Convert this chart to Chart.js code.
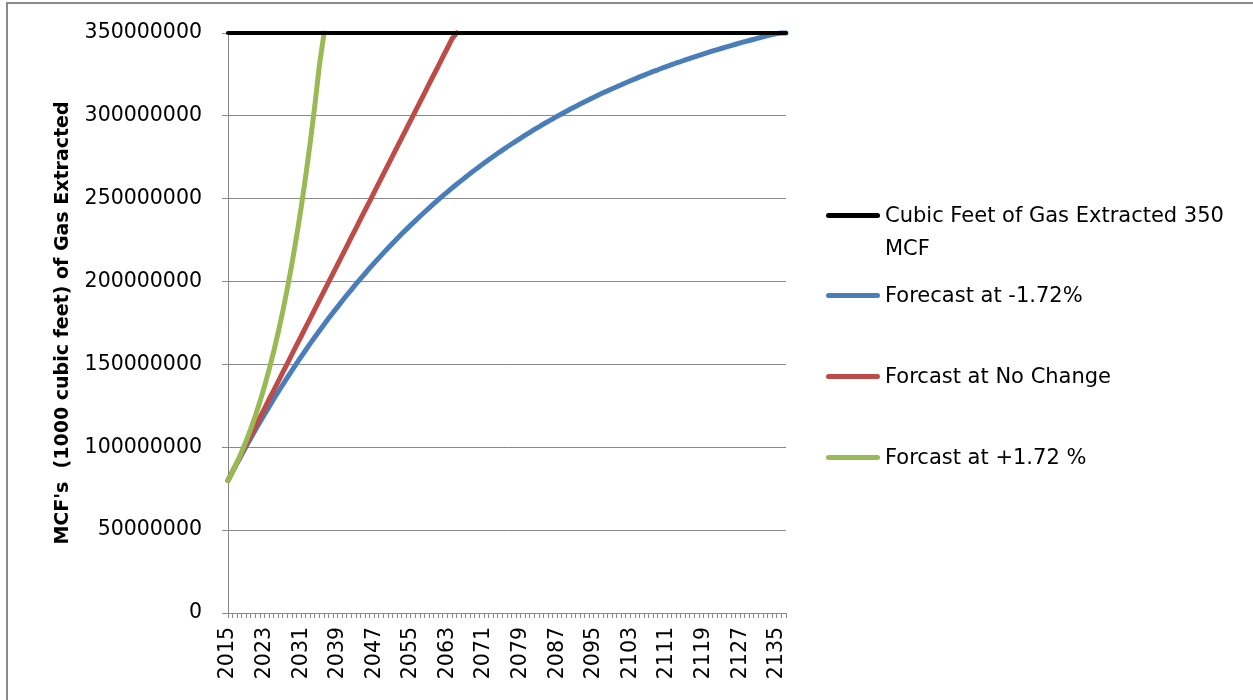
<!DOCTYPE html>
<html>
<head>
<meta charset="utf-8">
<title>Gas Extraction Forecast</title>
<script src="https://cdn.jsdelivr.net/npm/chart.js@4.4.1/dist/chart.umd.min.js"></script>
<style>
  html, body { margin: 0; padding: 0; background: #fff; }
  #wrap { position: relative; width: 1253px; height: 700px; overflow: hidden; }
  #frame { position: absolute; left: 6px; top: 2px; width: 1400px; height: 900px;
           border-left: 2px solid #8a8a8a; border-top: 2px solid #8a8a8a; }
  #chart { position: absolute; left: 0; top: 0; }
  #legend { position: absolute; left: 826px; top: 0; width: 427px; height: 700px; }
  .item { position: absolute; left: 0; display: flex; align-items: flex-start; }
  .swatch { width: 54px; height: 5px; border-radius: 2.5px; margin-top: 14px; margin-right: 5px; flex: none; }
  .text { width: 362px; font: 21px 'DejaVu Sans', sans-serif; line-height: 33px; color: #000; }
</style>
</head>
<body>
<div id="wrap">
  <div id="frame"></div>
  <canvas id="chart" width="1253" height="700"></canvas>
  <div id="legend"></div>
</div>
<script>
// Years on the category axis
const years = [
  2015,2016,2017,2018,2019,2020,2021,2022,2023,2024,
  2025,2026,2027,2028,2029,2030,2031,2032,2033,2034,
  2035,2036,2037,2038,2039,2040,2041,2042,2043,2044,
  2045,2046,2047,2048,2049,2050,2051,2052,2053,2054,
  2055,2056,2057,2058,2059,2060,2061,2062,2063,2064,
  2065,2066,2067,2068,2069,2070,2071,2072,2073,2074,
  2075,2076,2077,2078,2079,2080,2081,2082,2083,2084,
  2085,2086,2087,2088,2089,2090,2091,2092,2093,2094,
  2095,2096,2097,2098,2099,2100,2101,2102,2103,2104,
  2105,2106,2107,2108,2109,2110,2111,2112,2113,2114,
  2115,2116,2117,2118,2119,2120,2121,2122,2123,2124,
  2125,2126,2127,2128,2129,2130,2131,2132,2133,2134,
  2135,2136,2137
];

// Total reserve line (MCF)
const reserveTotal = [
  350e6,350e6,350e6,350e6,350e6,350e6,350e6,350e6,350e6,350e6,
  350e6,350e6,350e6,350e6,350e6,350e6,350e6,350e6,350e6,350e6,
  350e6,350e6,350e6,350e6,350e6,350e6,350e6,350e6,350e6,350e6,
  350e6,350e6,350e6,350e6,350e6,350e6,350e6,350e6,350e6,350e6,
  350e6,350e6,350e6,350e6,350e6,350e6,350e6,350e6,350e6,350e6,
  350e6,350e6,350e6,350e6,350e6,350e6,350e6,350e6,350e6,350e6,
  350e6,350e6,350e6,350e6,350e6,350e6,350e6,350e6,350e6,350e6,
  350e6,350e6,350e6,350e6,350e6,350e6,350e6,350e6,350e6,350e6,
  350e6,350e6,350e6,350e6,350e6,350e6,350e6,350e6,350e6,350e6,
  350e6,350e6,350e6,350e6,350e6,350e6,350e6,350e6,350e6,350e6,
  350e6,350e6,350e6,350e6,350e6,350e6,350e6,350e6,350e6,350e6,
  350e6,350e6,350e6,350e6,350e6,350e6,350e6,350e6,350e6,350e6,
  350e6,350e6,350e6
];

// Cumulative extraction, output falling 1.72% a year
const forecastDecline = [
  80.0e6,85.3e6,90.5e6,95.6e6,100.7e6,105.6e6,110.5e6,115.2e6,119.9e6,124.5e6,
  129.1e6,133.5e6,137.9e6,142.2e6,146.4e6,150.6e6,154.7e6,158.7e6,162.7e6,166.5e6,
  170.3e6,174.1e6,177.8e6,181.4e6,184.9e6,188.4e6,191.9e6,195.2e6,198.6e6,201.8e6,
  205.0e6,208.2e6,211.3e6,214.3e6,217.3e6,220.2e6,223.1e6,226.0e6,228.8e6,231.5e6,
  234.2e6,236.8e6,239.4e6,242.0e6,244.5e6,247.0e6,249.4e6,251.8e6,254.1e6,256.5e6,
  258.7e6,260.9e6,263.1e6,265.3e6,267.4e6,269.5e6,271.5e6,273.5e6,275.5e6,277.4e6,
  279.3e6,281.2e6,283.0e6,284.8e6,286.6e6,288.4e6,290.1e6,291.8e6,293.4e6,295.1e6,
  296.7e6,298.2e6,299.8e6,301.3e6,302.8e6,304.3e6,305.7e6,307.1e6,308.5e6,309.9e6,
  311.2e6,312.6e6,313.9e6,315.1e6,316.4e6,317.6e6,318.8e6,320.0e6,321.2e6,322.3e6,
  323.5e6,324.6e6,325.7e6,326.8e6,327.8e6,328.9e6,329.9e6,330.9e6,331.9e6,332.8e6,
  333.8e6,334.7e6,335.6e6,336.5e6,337.4e6,338.3e6,339.2e6,340.0e6,340.8e6,341.6e6,
  342.4e6,343.2e6,344.0e6,344.8e6,345.5e6,346.2e6,347.0e6,347.7e6,348.4e6,349.0e6,
  349.7e6,350.0e6,350.0e6
];

// Cumulative extraction, output held flat
const forecastFlat = [
  80.0e6,85.4e6,90.9e6,96.3e6,101.8e6,107.2e6,112.6e6,118.1e6,123.5e6,129.0e6,
  134.4e6,139.8e6,145.3e6,150.7e6,156.2e6,161.6e6,167.0e6,172.5e6,177.9e6,183.4e6,
  188.8e6,194.2e6,199.7e6,205.1e6,210.6e6,216.0e6,221.4e6,226.9e6,232.3e6,237.8e6,
  243.2e6,248.6e6,254.1e6,259.5e6,265.0e6,270.4e6,275.8e6,281.3e6,286.7e6,292.2e6,
  297.6e6,303.0e6,308.5e6,313.9e6,319.4e6,324.8e6,330.2e6,335.7e6,341.1e6,346.6e6,
  350.0e6
];

// Cumulative extraction, output growing each year
const forecastGrowth = [
  80.0e6,85.3e6,91.0e6,97.3e6,104.0e6,111.3e6,119.2e6,127.7e6,137.0e6,147.0e6,
  157.9e6,169.6e6,182.4e6,196.2e6,211.1e6,227.3e6,244.8e6,263.8e6,284.4e6,306.7e6,
  330.8e6,350.0e6
];

// Y axis ticks
const yTickMin = 0;
const yTickMax = 350000000;
const yTickStep = 50000000;
// Every n-th year is labelled on the X axis
const yearLabelEvery = 8;

const seriesNames = [
  'Cubic Feet of Gas Extracted 350 MCF',
  'Forecast at -1.72%',
  'Forcast at No Change',
  'Forcast at +1.72 %'
];
const seriesColors = ['#000000', '#4a7ebb', '#be4b48', '#98b954'];

const gridGray = '#898989';

Chart.defaults.font.family = "'DejaVu Sans', sans-serif";
Chart.defaults.color = '#000';

function lineSet(i, data, order) {
  return {
    label: seriesNames[i],
    data: data,
    borderColor: seriesColors[i],
    backgroundColor: seriesColors[i],
    borderWidth: i === 0 ? 4 : 5,
    pointRadius: 0,
    pointHoverRadius: 0,
    tension: 0,
    fill: false,
    spanGaps: false,
    borderCapStyle: 'round',
    borderJoinStyle: 'round',
    clip: 4,
    order: order
  };
}

const chart = new Chart(document.getElementById('chart'), {
  type: 'line',
  data: {
    labels: years,
    datasets: [
      lineSet(0, reserveTotal, 0),
      lineSet(1, forecastDecline, 3),
      lineSet(2, forecastFlat, 2),
      lineSet(3, forecastGrowth, 1)
    ]
  },
  options: {
    responsive: false,
    animation: false,
    devicePixelRatio: 1,
    layout: { padding: { left: 0, top: 33, right: 467, bottom: 0 } },
    plugins: {
      legend: { display: false },
      tooltip: { enabled: false }
    },
    scales: {
      x: {
        type: 'category',
        offset: false,
        grid: {
          display: true,
          drawOnChartArea: false,
          drawTicks: true,
          tickLength: 5,
          color: gridGray,
          lineWidth: 1
        },
        border: { display: true, color: gridGray, width: 1 },
        ticks: {
          autoSkip: false,
          minRotation: 90,
          maxRotation: 90,
          padding: 9,
          font: { size: 20.5 },
          color: '#000',
          callback: function (value, index) {
            return index % yearLabelEvery === 0 ? String(years[index]) : '';
          }
        },
        afterFit: function (scale) { scale.height = 87; }
      },
      y: {
        min: yTickMin,
        max: yTickMax,
        grid: {
          color: gridGray,
          lineWidth: 1,
          drawTicks: true,
          tickLength: 6
        },
        border: { display: true, color: gridGray, width: 1 },
        ticks: {
          stepSize: yTickStep,
          padding: 20,
          font: { size: 20.5 },
          color: '#000',
          callback: function (value) { return String(value); }
        },
        title: {
          display: true,
          text: "MCF's  (1000 cubic feet) of Gas Extracted",
          font: { size: 19, weight: 'bold' },
          color: '#000',
          padding: { top: 52, bottom: 0 }
        },
        afterFit: function (scale) { scale.width = 228; }
      }
    }
  }
});

// Legend built from the chart's own datasets
(function buildLegend() {
  const box = document.getElementById('legend');
  const firstCenter = 215;
  const spacing = 80.7;
  chart.data.datasets.forEach(function (ds, i) {
    const item = document.createElement('div');
    item.className = 'item';
    item.style.top = (firstCenter + i * spacing - 16.5) + 'px';
    const sw = document.createElement('div');
    sw.className = 'swatch';
    sw.style.background = ds.borderColor;
    const tx = document.createElement('div');
    tx.className = 'text';
    tx.textContent = ds.label;
    item.appendChild(sw);
    item.appendChild(tx);
    box.appendChild(item);
  });
})();
</script>
</body>
</html>
